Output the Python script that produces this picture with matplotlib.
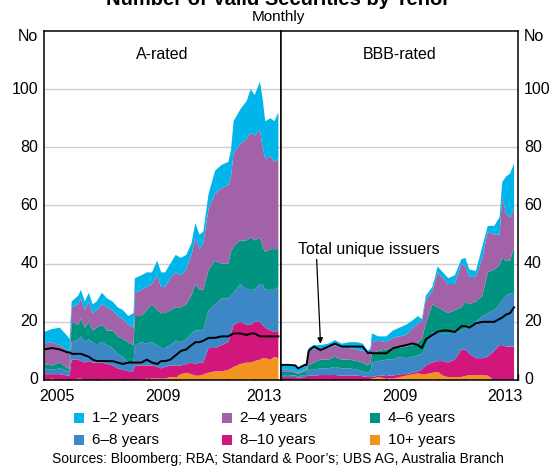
import numpy as np
import matplotlib
matplotlib.use("Agg")
import matplotlib.pyplot as plt

plt.rcParams['font.family'] = ['Liberation Sans', 'DejaVu Sans']

tenors = ["1–2 years", "2–4 years", "4–6 years", "6–8 years", "8–10 years", "10+ years"]
colors = ["#00B5E9", "#A262A8", "#009480", "#3D87C7", "#D1177C", "#F39420"]

# ---------------- A-rated (stack tops as read: 10+, 8-10, 6-8, 4-6, 2-4, 1-2) ----
a_dates = [2005.0, 2005.3, 2005.6, 2005.9, 2005.97, 2006.05, 2006.3, 2006.4, 2006.55, 2006.7,
           2006.85, 2007.0, 2007.2, 2007.4, 2007.6, 2007.8, 2008.0, 2008.2, 2008.4, 2008.45,
           2008.7, 2008.9, 2009.1, 2009.3, 2009.45, 2009.6, 2009.8, 2010.0, 2010.2, 2010.4,
           2010.6, 2010.75, 2010.9, 2011.05, 2011.25, 2011.5, 2011.75, 2012.0, 2012.1, 2012.2,
           2012.45, 2012.7, 2012.85, 2013.0, 2013.2, 2013.3, 2013.4, 2013.6, 2013.75, 2013.9]
a_top_10p = [0, 0.5, 0, 0, 0, 0, 0.5, 0.5, 0, 0,
             0, 0, 0, 0, 0, 0, 0, 0, 0, 0,
             0, 0.5, 0.5, 0.5, 0.5, 0.5, 1, 1, 2, 2.5,
             2, 1.5, 1.5, 2, 2.5, 3, 3, 3.5, 4, 4.5,
             5.5, 6, 6, 6.5, 7, 7.5, 7.5, 7, 8, 7.5]
a_top_8_10 = [2, 2, 2, 1.5, 1.5, 7, 7, 6.5, 6, 6.5,
              6, 6, 6, 5.5, 5, 4, 3.5, 3, 3, 5,
              5, 5, 5, 4.5, 4, 4.5, 5, 5, 5, 5.5,
              6, 5.5, 6, 6, 11, 11, 12, 13, 16, 19,
              20, 19, 19, 20, 20, 19, 18, 17, 16.5, 17]
a_top_6_8 = [4, 3.5, 4, 3, 3, 13, 14, 15, 13, 14,
             13, 12, 13, 12, 11, 9, 8, 6, 6, 12,
             13, 12.5, 13, 12, 11, 11, 12, 13.5, 13, 14,
             16, 17, 17, 17, 24, 26, 28, 28, 29, 30,
             33, 31, 31, 31, 33, 33, 31, 31, 31, 32]
a_top_4_6 = [5.5, 5, 6, 4, 4, 20, 19, 21, 18, 20,
             17, 18, 19, 17, 17, 15, 14, 13, 12, 22,
             22, 24, 26, 24, 23, 23, 24, 25, 25, 26,
             29, 33, 31, 31, 38, 41, 40, 40, 44, 46,
             48, 48, 49, 48, 49, 46, 44, 45, 45, 45]
a_top_2_4 = [12.5, 13, 12, 10, 9, 25, 26, 28, 24, 27,
             23, 24, 26, 25, 24, 22, 21, 19, 18, 30,
             31, 32, 33, 36, 32, 32, 35, 37, 36, 38,
             43, 49, 45, 47, 59, 64, 66, 67, 70, 78,
             81, 83, 85, 84, 86, 80, 76, 77, 75, 76]
a_top_1_2 = [16.5, 17.5, 18, 15, 14, 27, 29, 31, 27, 30,
             26, 27, 30, 28, 27, 25, 24, 22, 23, 35,
             36, 37, 37, 41, 37, 37, 40, 43, 42, 43,
             47, 54, 50, 51, 64, 72, 74, 75, 79, 89,
             93, 96, 100, 98, 102.5, 97, 89, 90, 89, 92]
a_issuers = [10.5, 11, 10.5, 9.5, 9.5, 9, 9, 9, 8.5, 8,
             7, 6.5, 6.5, 6.5, 6.5, 6, 5.5, 6, 6, 6,
             6, 7, 6, 5.5, 6.5, 6.5, 7, 8.5, 10, 10.5,
             12, 13, 13, 13.5, 14.5, 14.5, 15, 15, 15.5, 16,
             16, 15.5, 16, 16, 15, 15, 15, 15, 15, 15]

# ---------------- BBB-rated ----------------
b_dates = [2005.0, 2005.3, 2005.55, 2005.65, 2005.9, 2005.97, 2006.05, 2006.25, 2006.5, 2006.8,
           2007.05, 2007.3, 2007.6, 2007.9, 2008.1, 2008.3, 2008.4, 2008.45, 2008.7, 2009.0,
           2009.25, 2009.5, 2009.75, 2010.0, 2010.2, 2010.35, 2010.5, 2010.75, 2010.95, 2011.15,
           2011.35, 2011.6, 2011.85, 2012.0, 2012.15, 2012.4, 2012.65, 2012.85, 2013.1, 2013.3,
           2013.4, 2013.55, 2013.7, 2013.85]
b_top_10p = [0, 0, 0, 0, 0, 0, 0, 0, 0, 0,
             0, 0, 0, 0, 0, 0, 0, 0.5, 1, 0.5,
             0.5, 1, 1.5, 2, 2.3, 2, 2, 2.5, 2.8, 1.5,
             1, 1, 1, 1.5, 1.7, 1.7, 1.7, 1.5, 0, 0,
             0, 0, 0, 0]
b_top_8_10 = [1, 1, 1, 0.8, 1, 1, 1.5, 1.5, 1.7, 1.7,
              1.7, 1.5, 1.5, 1.5, 1.3, 1, 1, 1, 1.5, 1.5,
              1.5, 2, 2, 2.5, 3, 3.5, 5, 6, 6.5, 6.5,
              6, 7, 10.5, 10.5, 9, 7.5, 7.5, 8, 10, 12,
              12, 11.5, 11.5, 11.5]
b_top_6_8 = [1.7, 1.7, 1.5, 1.3, 1.7, 1.7, 3.5, 3.5, 4, 4,
             4.5, 4, 4, 3.5, 3, 2.5, 3, 6, 6.5, 7,
             7, 8, 7.5, 8, 8.5, 9, 11.5, 16.5, 16.5, 16,
             16, 16.5, 17, 18, 18.3, 20, 22, 23, 24, 26,
             27.5, 29, 29.8, 30]
b_top_4_6 = [3, 3, 2.5, 2, 3, 3, 5, 6, 7, 7,
             8, 7, 7, 6.5, 6, 5, 6, 9, 10, 10.5,
             11, 11, 11.5, 12, 13, 14, 19.5, 26, 25, 24,
             23, 24, 25, 27, 26, 27, 29, 37, 38, 39.5,
             42, 41, 41, 45.8]
b_top_2_4 = [3.5, 3.5, 3, 2.5, 3.5, 3.5, 10, 10.5, 11, 11,
             12, 11, 11, 10.5, 10, 9, 10, 13, 13.5, 13,
             14.5, 15, 15.5, 18, 19.5, 20, 27.5, 30.5, 37, 35,
             33, 33, 40, 39, 35.5, 35.5, 42, 51, 50, 50,
             63, 57, 56, 59]
b_top_1_2 = [5.5, 5.5, 5, 4, 5.5, 5.5, 11, 12, 12, 12.5,
             13.7, 12.5, 13, 13, 12.5, 10, 11, 16, 15, 15,
             17, 18, 19, 20.5, 22, 21, 29, 32, 39, 37,
             35, 36, 41.5, 42, 38, 37.5, 46, 53, 53, 56,
             68, 70, 71, 74.5]
b_issuers = [5.2, 5.2, 5, 4, 5.2, 5.2, 10, 11.5, 10.3, 11.5,
             12.5, 11.5, 11.5, 11.5, 11.5, 9.2, 9.5, 9.2, 9.2, 9.2,
             10.9, 11.5, 12, 12.6, 12, 11, 14, 15.5, 16.6, 17,
             17, 16.5, 18.5, 18.5, 18, 19.5, 20, 20, 20, 21,
             21.5, 22.5, 23, 25]

yticks = [0, 20, 40, 60, 80, 100]

fig = plt.figure(figsize=(5.56, 4.66), dpi=100)
W, H = 556, 466
axA = fig.add_axes([44 / W, 86 / H, 237 / W, 349 / H])
axB = fig.add_axes([281 / W, 86 / H, 237 / W, 349 / H])


def draw(ax, dates, tops, issuers, title):
    x = np.array(dates)
    tops = [np.array(t, dtype=float) for t in tops]  # bottom->top order
    counts = [tops[0]] + [tops[i] - tops[i - 1] for i in range(1, len(tops))]
    # counts bottom->top: 10+, 8-10, 6-8, 4-6, 2-4, 1-2
    ax.stackplot(x, counts, colors=colors[::-1], linewidth=0, zorder=2)
    ax.plot(x, issuers, color="black", lw=1.4, zorder=3)
    ax.set_xlim(2005, 2014)
    ax.set_ylim(0, 120)
    ax.set_yticks(yticks)
    ax.set_yticklabels([])
    for yy in yticks[1:]:
        ax.axhline(yy, color="#cfcfcf", lw=1, zorder=1)
    ax.tick_params(axis="y", length=0)
    ax.set_xticks(range(2005, 2015))
    ax.set_xticklabels([])
    ax.tick_params(axis="x", direction="in", length=4, width=1, color="black")
    for s in ax.spines.values():
        s.set_linewidth(1.1)
        s.set_color("black")
        s.set_zorder(5)
    ax.text(0.5, 0.955, title, transform=ax.transAxes, ha="center", va="top", fontsize=11.5)


draw(axA, a_dates, [a_top_10p, a_top_8_10, a_top_6_8, a_top_4_6, a_top_2_4, a_top_1_2],
     a_issuers, "A-rated")
draw(axB, b_dates, [b_top_10p, b_top_8_10, b_top_6_8, b_top_4_6, b_top_2_4, b_top_1_2],
     b_issuers, "BBB-rated")

fs = 11.5
# y tick labels
for yy in yticks:
    axA.text(-0.025, yy, str(yy), transform=axA.get_yaxis_transform(), ha="right", va="center", fontsize=fs)
    axB.text(1.025, yy, str(yy), transform=axB.get_yaxis_transform(), ha="left", va="center", fontsize=fs)
axA.text(-0.025, 118, "No", transform=axA.get_yaxis_transform(), ha="right", va="center", fontsize=fs)
axB.text(1.025, 118, "No", transform=axB.get_yaxis_transform(), ha="left", va="center", fontsize=fs)

# x labels (centred on the year)
for xx, lab in [(2005.5, "2005"), (2009.5, "2009"), (2013.35, "2013")]:
    axA.text(xx, -0.025, lab, transform=axA.get_xaxis_transform(), ha="center", va="top", fontsize=fs)
for xx, lab in [(2009.5, "2009"), (2013.5, "2013")]:
    axB.text(xx, -0.025, lab, transform=axB.get_xaxis_transform(), ha="center", va="top", fontsize=fs)

# annotation
axB.annotate("Total unique issuers", xy=(2006.5, 12.5), xytext=(2005.65, 45),
             ha="left", va="center", fontsize=fs,
             arrowprops=dict(arrowstyle="-|>", color="black", lw=0.9, mutation_scale=8,
                             shrinkA=0, shrinkB=0, relpos=(0.13, 0.0)))

# titles
fig.text(0.5, (H - 5) / H, "Number of Valid Securities by Tenor", ha="center", va="baseline",
         fontsize=14.5, fontweight="bold")
fig.text(0.5, (H - 17) / H, "Monthly", ha="center", va="center", fontsize=11)

# legend
leg_x = [79, 227, 375]
leg_y = [418, 440]
for i, lab in enumerate(tenors):
    r, c = divmod(i, 3)
    px, py = leg_x[c], leg_y[r]
    fig.patches.append(plt.Rectangle(((px - 5) / W, (H - py - 5) / H), 10 / W, 10 / H,
                                     transform=fig.transFigure, color=colors[i], lw=0))
    fig.text((px + 13) / W, (H - py) / H, lab, ha="left", va="center", fontsize=11)

fig.text(0.5, (H - 459) / H, "Sources: Bloomberg; RBA; Standard & Poor’s; UBS AG, Australia Branch",
         ha="center", va="center", fontsize=10)

fig.savefig("out.png", dpi=100)
